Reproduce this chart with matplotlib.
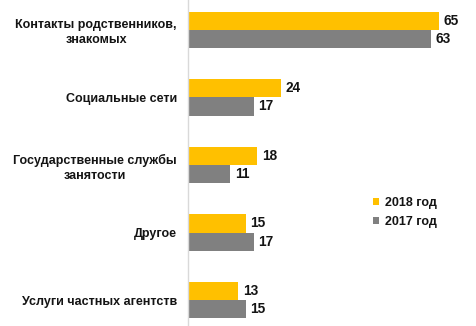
import matplotlib
matplotlib.use("Agg")
import matplotlib.pyplot as plt
import numpy as np

plt.rcParams['font.family'] = ['Liberation Sans', 'DejaVu Sans']

categories = ["Контакты родственников,\nзнакомых", "Социальные сети",
              "Государственные службы\nзанятости", "Другое",
              "Услуги частных агентств"]
values_2018 = [65, 24, 18, 15, 13]
values_2017 = [63, 17, 11, 17, 15]
series_labels = ["2018 год", "2017 год"]

color_2018 = "#FFC000"
color_2017 = "#808080"
text_color = "#141414"

W, H = 477, 326
fig = plt.figure(figsize=(W / 100, H / 100), dpi=100)
ax = fig.add_axes([188 / W, 0, 1 - 188 / W, 1])

y = np.arange(len(categories))
h = 0.267
b1 = ax.barh(y - h / 2, values_2018, height=h, color=color_2018, label=series_labels[0])
b2 = ax.barh(y + h / 2, values_2017, height=h, color=color_2017, label=series_labels[1])

ax.set_xlim(0, 74.9)
ax.set_ylim(4.385, -0.444)

for bars in (b1, b2):
    for rect in bars:
        v = rect.get_width()
        ax.text(v + 1.2, rect.get_y() + rect.get_height() / 2, f"{v:g}",
                ha="left", va="center", fontsize=9.8, fontweight="bold",
                color=text_color)

ax.set_yticks(y)
ax.set_yticklabels(categories, fontsize=9.0, fontweight="bold",
                   color=text_color, multialignment="center",
                   linespacing=1.3)
ax.tick_params(axis="y", length=0, pad=8)
ax.set_xticks([])

for side in ("top", "right", "bottom"):
    ax.spines[side].set_visible(False)
ax.spines["left"].set_color("#d9d9d9")
ax.spines["left"].set_linewidth(1.0)

leg = ax.legend(loc="upper left", bbox_to_anchor=(373 / W, 1 - 197 / H),
                bbox_transform=fig.transFigure, frameon=False,
                handlelength=0.5, handleheight=0.5, handletextpad=0.5,
                labelspacing=0.55, borderaxespad=0, borderpad=0,
                prop={"size": 9.0, "weight": "bold"})
for t in leg.get_texts():
    t.set_color(text_color)

fig.savefig("out.png", dpi=100)
